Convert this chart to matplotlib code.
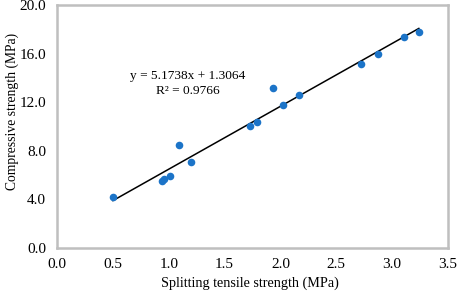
import matplotlib
matplotlib.use("Agg")
import matplotlib.pyplot as plt
import numpy as np

# splitting tensile strength (MPa) vs compressive strength (MPa)
tensile = [0.50, 0.94, 0.96, 1.01, 1.09, 1.20, 1.73, 1.79, 1.93, 2.02, 2.17, 2.72, 2.87, 3.11, 3.24]
compressive = [4.15, 5.5, 5.7, 5.9, 8.45, 7.05, 10.0, 10.4, 13.15, 11.8, 12.55, 15.15, 16.0, 17.4, 17.8]
slope = 5.1738
intercept = 1.3064
r2 = 0.9766

plt.rcParams["font.family"] = ["Liberation Serif", "DejaVu Serif"]

fig = plt.figure(figsize=(4.57, 2.93), dpi=100)
ax = fig.add_axes([0.125, 0.154, 0.855, 0.829])

ax.scatter(tensile, compressive, s=30, color="#1c74c8", zorder=3, linewidths=0)
xs = np.array([min(tensile), max(tensile)])
ax.plot(xs, slope * xs + intercept, color="black", lw=1.1, zorder=2)

ax.text(1.17, 14.15, f"y = {slope:.4f}x + {intercept:.4f}", ha="center", va="center", fontsize=9.6)
ax.text(1.17, 12.9, f"R² = {r2:.4f}", ha="center", va="center", fontsize=9.6)

ax.set_xlim(0, 3.5)
ax.set_ylim(0, 20)
ax.set_xticks(np.arange(0, 3.51, 0.5))
ax.set_yticks(np.arange(0, 20.1, 4))
ax.xaxis.set_major_formatter(matplotlib.ticker.FormatStrFormatter("%.1f"))
ax.yaxis.set_major_formatter(matplotlib.ticker.FormatStrFormatter("%.1f"))
ax.tick_params(axis="y", length=0, labelsize=11, pad=8)
ax.tick_params(axis="x", length=0, labelsize=11, pad=7)
for sp in ax.spines.values():
    sp.set_color("#bfbfbf")
    sp.set_linewidth(1.8)

ax.set_xlabel("Splitting tensile strength (MPa)", fontsize=10.2)
ax.set_ylabel("Compressive strength (MPa)", fontsize=9.8)
ax.xaxis.set_label_coords(0.494, -0.118)
ax.yaxis.set_label_coords(-0.097, 0.56)

fig.savefig("out.png", dpi=100)
